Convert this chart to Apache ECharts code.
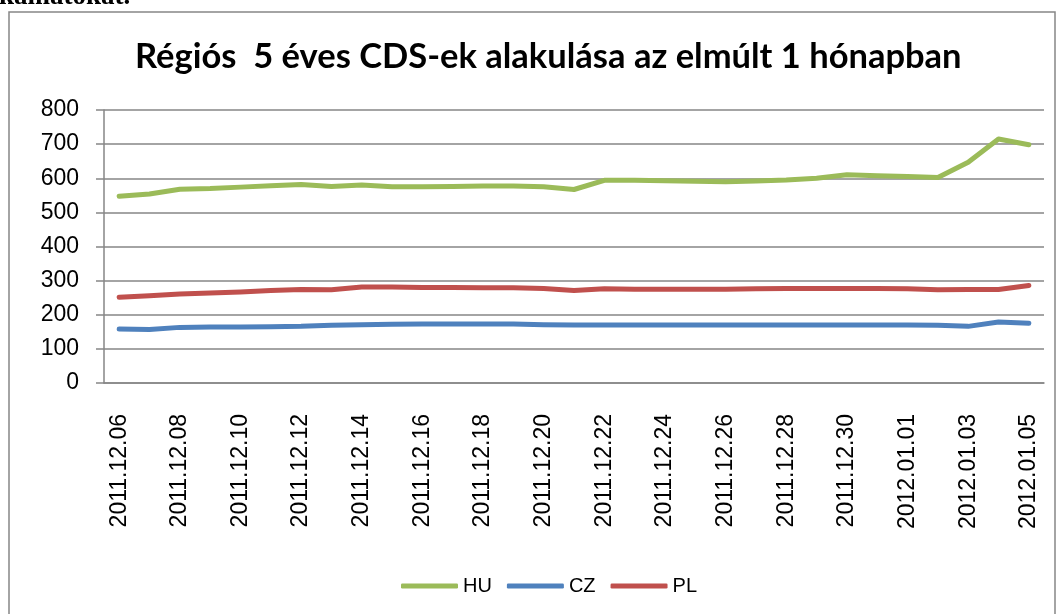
<!DOCTYPE html>
<html>
<head>
<meta charset="utf-8">
<script src="https://cdn.jsdelivr.net/npm/echarts@6/dist/echarts.min.js"></script>
<style>
html,body{margin:0;padding:0;background:#fff;}
#main{width:1064px;height:614px;}
</style>
</head>
<body>
<div id="main"></div>
<script>
const dates = [
 '2011.12.06','2011.12.07','2011.12.08','2011.12.09','2011.12.10','2011.12.11','2011.12.12','2011.12.13',
 '2011.12.14','2011.12.15','2011.12.16','2011.12.17','2011.12.18','2011.12.19','2011.12.20','2011.12.21',
 '2011.12.22','2011.12.23','2011.12.24','2011.12.25','2011.12.26','2011.12.27','2011.12.28','2011.12.29',
 '2011.12.30','2011.12.31','2012.01.01','2012.01.02','2012.01.03','2012.01.04','2012.01.05'
];
const HU = [547,554,568,570,574,578,582,576,580,575,575,576,577,577,575,567,594,594,593,591,590,592,595,600,610,607,605,602,647,715,698];
const CZ = [158,157,163,164,164,165,166,169,171,172,173,173,173,173,171,170,170,170,170,170,170,170,170,170,170,170,170,169,166,179,175];
const PL = [251,256,261,264,267,271,274,273,281,281,280,280,279,279,277,271,276,275,275,275,275,276,277,277,277,277,276,273,274,274,286];
const yTicks = [0,100,200,300,400,500,600,700,800];
const titleText = 'Régiós  5 éves CDS-ek alakulása az elmúlt 1 hónapban';

const chart = echarts.init(document.getElementById('main'), null, {renderer:'canvas'});
const gray = '#868686';
chart.setOption({
  animation:false,
  backgroundColor:'#fff',
  title:{
    text:titleText, left:130, top:34,
    textStyle:{fontFamily:'Lato', fontWeight:'bold', fontSize:34.5, color:'#000'}
  },
  graphic:[
    {type:'rect', shape:{x:9, y:12, width:1046, height:640}, style:{fill:null, stroke:gray, lineWidth:1.5}, silent:true},
    {type:'text', x:-1, y:-3, style:{text:'kamatokat.', font:'bold 27px "Liberation Serif"', fill:'#000', verticalAlign:'middle'}}
  ],
  legend:{
    data:['HU','CZ','PL'], bottom:13, left:396,
    itemWidth:57, itemHeight:5, itemGap:15, icon:'roundRect',
    textStyle:{fontFamily:'Liberation Sans', fontSize:20, color:'#000', padding:[0,0,0,0]}
  },
  grid:{left:104, right:20, top:110, bottom:231, containLabel:false},
  xAxis:{
    type:'category', data:dates, boundaryGap:true,
    axisLine:{lineStyle:{color:gray, width:1.5}},
    axisTick:{interval:1, length:8, lineStyle:{color:gray, width:1.5}},
    axisLabel:{interval:1, rotate:90, margin:31, fontFamily:'Liberation Sans', fontSize:23, color:'#000'},
    splitLine:{show:false}
  },
  yAxis:{
    type:'value', min:yTicks[0], max:yTicks[yTicks.length-1], interval:100,
    axisLine:{show:true, lineStyle:{color:gray, width:1.5}},
    axisTick:{show:true, length:8, lineStyle:{color:gray, width:1.5}},
    axisLabel:{margin:25, fontFamily:'Liberation Sans', fontSize:23, color:'#000'},
    splitLine:{lineStyle:{color:gray, width:1.5}}
  },
  series:[
    {name:'HU', type:'line', data:HU, symbol:'none', color:'#9BBB59', lineStyle:{width:5, cap:'round', join:'round'}},
    {name:'CZ', type:'line', data:CZ, symbol:'none', color:'#4F81BD', lineStyle:{width:5, cap:'round', join:'round'}},
    {name:'PL', type:'line', data:PL, symbol:'none', color:'#C0504D', lineStyle:{width:5, cap:'round', join:'round'}}
  ]
});
</script>
</body>
</html>
